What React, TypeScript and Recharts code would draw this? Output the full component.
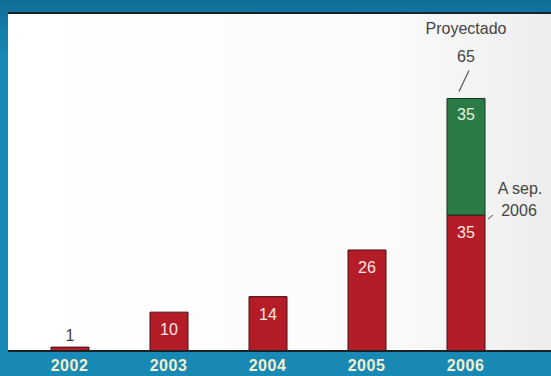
import React from "react";
import { BarChart, Bar, XAxis, YAxis, CartesianGrid, LabelList, ReferenceLine } from "recharts";

const years = ["2002", "2003", "2004", "2005", "2006"];
const actualValues = [1, 10, 14, 26, 35];
const projectedValues = [0, 0, 0, 0, 30];
const actualLabels = ["1", "10", "14", "26", "35"];
const projectedLabels = ["", "", "", "", "35"];
const totalLabel = "65";
const projectedTitle = "Proyectado";
const partialNote = ["A sep.", "2006"];

const data = years.map((y, i) => ({
  year: y,
  actual: actualValues[i],
  actualLabel: actualLabels[i],
  projected: projectedValues[i] || null,
  projectedLabel: projectedLabels[i],
}));

const FONT = "Arial, 'Liberation Sans', sans-serif";

const ActualLabel = (props: any) => {
  const { x, y, width, height, value } = props;
  const cx = x + width / 2;
  const small = height < 15;
  const els: any[] = [];
  els.push(
    <text key="t" x={cx} y={small ? y - 6 : y + 23} textAnchor="middle" fontFamily={FONT} fontSize={16}
      fill={small ? "#444444" : "#fbe9e6"}>{value}</text>
  );
  if (value === actualLabels[actualLabels.length - 1] && !small && x > 400) {
    els.push(<line key="l" x1={x + width + 3} y1={y + 4} x2={x + width + 8} y2={y} stroke="#555" strokeWidth={1} />);
    els.push(<text key="a" x={cx + 54} y={y - 21} textAnchor="middle" fontFamily={FONT} fontSize={16} fill="#444">{partialNote[0]}</text>);
    els.push(<text key="b" x={cx + 53} y={y + 1} textAnchor="middle" fontFamily={FONT} fontSize={16} fill="#444">{partialNote[1]}</text>);
  }
  return <g>{els}</g>;
};

const ProjectedLabel = (props: any) => {
  const { x, y, width, value } = props;
  if (!value) return null;
  const cx = x + width / 2;
  return (
    <g>
      <text x={cx} y={y + 22} textAnchor="middle" fontFamily={FONT} fontSize={16} fill="#e6f2e4">{value}</text>
      <line x1={cx + 3} y1={y - 28} x2={cx - 7} y2={y - 7} stroke="#555" strokeWidth={1.2} />
      <text x={cx} y={y - 36} textAnchor="middle" fontFamily={FONT} fontSize={16} fill="#444">{totalLabel}</text>
      <text x={cx} y={y - 64} textAnchor="middle" fontFamily={FONT} fontSize={16} fill="#444">{projectedTitle}</text>
    </g>
  );
};

export default function App() {
  return (
    <div style={{ position: "absolute", left: 0, top: 0, width: 551, height: 376, background: "linear-gradient(#0f6e98, #1888b4 15%, #1888b4)" }}>
      <BarChart width={551} height={376} data={data} margin={{ top: 13, right: 0, bottom: 0, left: 8 }} barCategoryGap={0}>
        <defs>
          <linearGradient id="panel" x1="0" y1="0" x2="1" y2="0">
            <stop offset="0%" stopColor="#ffffff" />
            <stop offset="70%" stopColor="#fbfbfb" />
            <stop offset="100%" stopColor="#ededed" />
          </linearGradient>
        </defs>
        <CartesianGrid horizontal={false} vertical={false} fill="url(#panel)" />
        <XAxis dataKey="year" axisLine={{ stroke: "#1b2226", strokeWidth: 2 }} tickLine={false} padding={{ left: 12, right: 36 }}
          tick={{ fill: "#f3efcf", fontSize: 16, fontWeight: "bold", fontFamily: FONT, letterSpacing: 0.5 }} dy={1} height={25} />
        <YAxis domain={[0, 87]} allowDataOverflow width={0} tick={false} tickLine={false} axisLine={{ stroke: "#1b2226", strokeWidth: 2 }} />
        <ReferenceLine y={87} stroke="#1b2226" strokeWidth={2} />
        <Bar dataKey="actual" stackId="a" fill="#b41c27" stroke="#4a1014" strokeWidth={1} barSize={38} isAnimationActive={false}>
          <LabelList dataKey="actualLabel" content={ActualLabel} />
        </Bar>
        <Bar dataKey="projected" stackId="a" fill="#2b7b47" stroke="#16351f" strokeWidth={1} barSize={38} isAnimationActive={false}>
          <LabelList dataKey="projectedLabel" content={ProjectedLabel} />
        </Bar>
      </BarChart>
    </div>
  );
}
